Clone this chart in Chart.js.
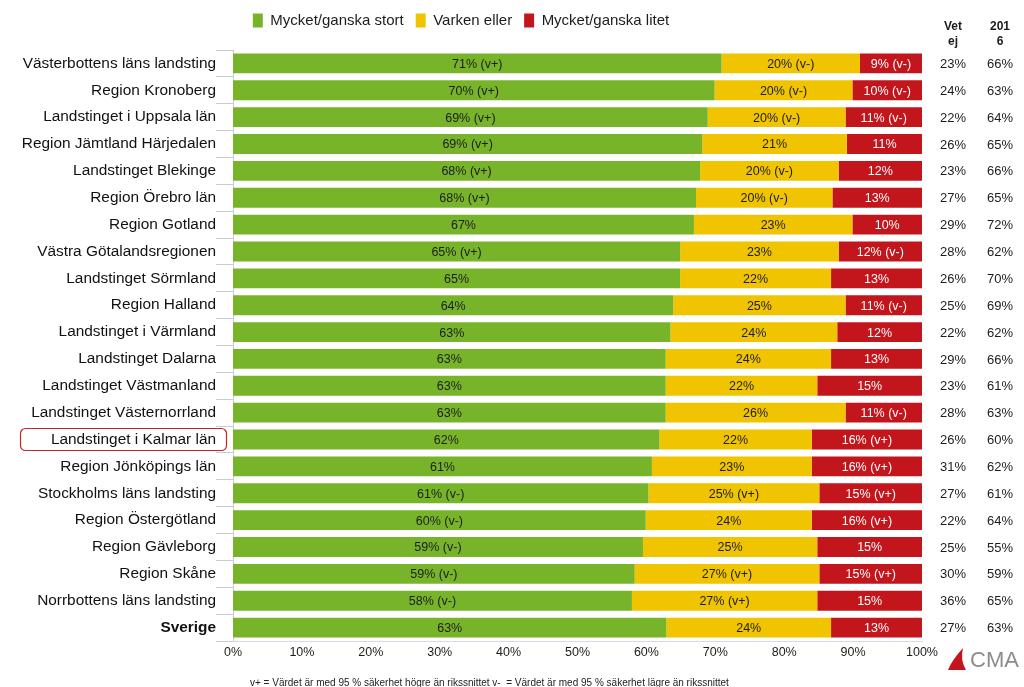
<!DOCTYPE html>
<html>
<head>
<meta charset="utf-8">
<script src="https://cdn.jsdelivr.net/npm/chart.js@4"></script>
<style>
  html, body { margin: 0; padding: 0; background: #fff; }
  #wrap { width: 1024px; height: 687px; }
</style>
</head>
<body>
<div id="wrap"><canvas id="chart" width="1024" height="687"></canvas></div>
<script>
const categories = [
  'Västerbottens läns landsting', 'Region Kronoberg', 'Landstinget i Uppsala län',
  'Region Jämtland Härjedalen', 'Landstinget Blekinge', 'Region Örebro län',
  'Region Gotland', 'Västra Götalandsregionen', 'Landstinget Sörmland',
  'Region Halland', 'Landstinget i Värmland', 'Landstinget Dalarna',
  'Landstinget Västmanland', 'Landstinget Västernorrland', 'Landstinget i Kalmar län',
  'Region Jönköpings län', 'Stockholms läns landsting', 'Region Östergötland',
  'Region Gävleborg', 'Region Skåne', 'Norrbottens läns landsting', 'Sverige'
];

// bar lengths (percent)
const stort  = [70.9, 69.9, 68.9, 68.1, 67.8, 67.2, 66.9, 64.9, 64.9, 63.9, 63.5, 62.8, 62.8, 62.8, 61.9, 60.8, 60.3, 59.9, 59.5, 58.3, 57.9, 62.9];
const varken = [20.1, 20.0, 20.0, 21.0, 20.1, 19.8, 23.0, 23.0, 21.9, 25.0, 24.2, 24.0, 22.0, 26.1, 22.1, 23.2, 24.8, 24.1, 25.3, 26.8, 26.9, 23.9];
const litet  = [9.0, 10.1, 11.1, 10.9, 12.1, 13.0, 10.1, 12.1, 13.2, 11.1, 12.3, 13.2, 15.2, 11.1, 16.0, 16.0, 14.9, 16.0, 15.2, 14.9, 15.2, 13.2];

// printed labels inside the bars
const stortLabels = ['71% (v+)', '70% (v+)', '69% (v+)', '69% (v+)', '68% (v+)', '68% (v+)', '67%', '65% (v+)', '65%', '64%', '63%', '63%', '63%', '63%', '62%', '61%', '61% (v-)', '60% (v-)', '59% (v-)', '59% (v-)', '58% (v-)', '63%'];
const varkenLabels = ['20% (v-)', '20% (v-)', '20% (v-)', '21%', '20% (v-)', '20% (v-)', '23%', '23%', '22%', '25%', '24%', '24%', '22%', '26%', '22%', '23%', '25% (v+)', '24%', '25%', '27% (v+)', '27% (v+)', '24%'];
const litetLabels = ['9% (v-)', '10% (v-)', '11% (v-)', '11%', '12%', '13%', '10%', '12% (v-)', '13%', '11% (v-)', '12%', '13%', '15%', '11% (v-)', '16% (v+)', '16% (v+)', '15% (v+)', '16% (v+)', '15%', '15% (v+)', '15%', '13%'];

const vetEj = [23, 24, 22, 26, 23, 27, 29, 28, 26, 25, 22, 29, 23, 28, 26, 31, 27, 22, 25, 30, 36, 27];
const year2016 = [66, 63, 64, 65, 66, 65, 72, 62, 70, 69, 62, 66, 61, 63, 60, 62, 61, 64, 55, 59, 65, 63];

const xTicks = [0, 10, 20, 30, 40, 50, 60, 70, 80, 90, 100];
const highlighted = 'Landstinget i Kalmar län';

const GREEN = '#78b42a';
const YELLOW = '#f0c400';
const RED = '#c3151c';
const FONT = "'Liberation Sans', Arial, sans-serif";

const labelSets = [stortLabels, varkenLabels, litetLabels];
const labelColors = ['#1c1c1c', '#1c1c1c', '#ffffff'];

// extra room between legend and plot
const legendGap = {
  id: 'legendGap',
  beforeInit(chart) {
    const fit = chart.legend.fit;
    chart.legend.fit = function () {
      fit.bind(chart.legend)();
      this.height += 12;
    };
  }
};

// text inside bars, side columns, marker box, footnote
const extras = {
  id: 'extras',
  afterDatasetsDraw(chart) {
    const ctx = chart.ctx;
    const y = chart.scales.y;
    ctx.save();
    ctx.textBaseline = 'middle';
    ctx.textAlign = 'center';
    ctx.font = '12.5px ' + FONT;
    chart.data.datasets.forEach((ds, i) => {
      const meta = chart.getDatasetMeta(i);
      meta.data.forEach((bar, j) => {
        ctx.fillStyle = labelColors[i];
        ctx.fillText(labelSets[i][j], (bar.x + bar.base) / 2, bar.y + 1);
      });
    });

    // right hand columns
    ctx.fillStyle = '#1c1c1c';
    ctx.font = '13px ' + FONT;
    categories.forEach((c, j) => {
      const py = y.getPixelForValue(j) + 1;
      ctx.fillText(vetEj[j] + '%', 953, py);
      ctx.fillText(year2016[j] + '%', 1000, py);
    });
    ctx.font = 'bold 12px ' + FONT;
    ctx.fillText('Vet', 953, 27);
    ctx.fillText('ej', 953, 42);
    ctx.fillText('201', 1000, 27);
    ctx.fillText('6', 1000, 42);

    // highlight box around Kalmar
    const hy = y.getPixelForValue(categories.indexOf(highlighted));
    ctx.strokeStyle = '#c0282e';
    ctx.lineWidth = 1.2;
    ctx.beginPath();
    ctx.roundRect(20.5, hy - 11, 206, 22, 5);
    ctx.stroke();

    // footnote
    ctx.textAlign = 'left';
    ctx.font = '10px ' + FONT;
    ctx.fillStyle = '#222';
    ctx.fillText('v+ = Värdet är med 95 % säkerhet högre än rikssnittet v-  = Värdet är med 95 % säkerhet lägre än rikssnittet', 250, 683);

    // logo
    ctx.fillStyle = '#c3151c';
    ctx.beginPath();
    ctx.moveTo(963, 648);
    ctx.quadraticCurveTo(952, 660, 948, 670);
    ctx.lineTo(966, 670);
    ctx.quadraticCurveTo(960, 660, 963, 648);
    ctx.fill();
    ctx.fillStyle = '#8c8c8c';
    ctx.font = '22px ' + FONT;
    ctx.fillText('CMA', 970, 661);
    ctx.restore();
  }
};

new Chart(document.getElementById('chart'), {
  type: 'bar',
  data: {
    labels: categories,
    datasets: [
      { label: 'Mycket/ganska stort', data: stort, backgroundColor: GREEN },
      { label: 'Varken eller', data: varken, backgroundColor: YELLOW },
      { label: 'Mycket/ganska litet', data: litet, backgroundColor: RED }
    ]
  },
  options: {
    indexAxis: 'y',
    responsive: false,
    animation: false,
    events: [],
    categoryPercentage: 1,
    barPercentage: 0.74,
    layout: { padding: { top: 1, right: 102, bottom: 23, left: 0 } },
    plugins: {
      legend: {
        position: 'top',
        labels: {
          color: '#1c1c1c',
          font: { size: 15, family: FONT },
          boxWidth: 10,
          boxHeight: 14,
          padding: 12
        }
      },
      tooltip: { enabled: false }
    },
    scales: {
      x: {
        stacked: true,
        min: 0,
        max: 100,
        afterBuildTicks: (s) => { s.ticks = xTicks.map(v => ({ value: v })); },
        ticks: {
          callback: (v) => v + '%',
          color: '#1c1c1c',
          font: { size: 12.5, family: FONT },
          padding: 4
        },
        grid: { display: false, drawTicks: false },
        border: { color: '#d5dbe6' }
      },
      y: {
        stacked: true,
        afterFit: (s) => { s.width = 233; },
        ticks: {
          color: '#111',
          padding: 0,
          font: (c) => ({ size: 15.4, family: FONT, weight: c.index === categories.length - 1 ? 'bold' : 'normal' })
        },
        grid: {
          offset: true,
          drawOnChartArea: false,
          tickLength: 17,
          color: '#c5cddb'
        },
        border: { color: '#c5cddb' }
      }
    }
  },
  plugins: [legendGap, extras]
});
</script>
</body>
</html>
